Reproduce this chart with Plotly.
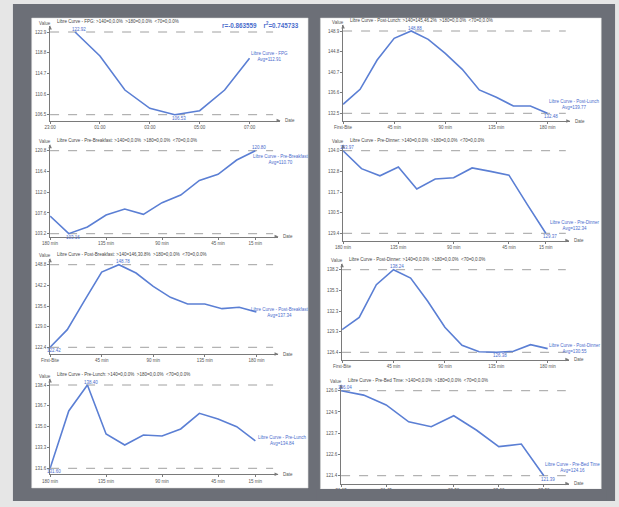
import numpy as np
import plotly.graph_objects as go

W, H = 619, 507

# ------------------------------------------------------------------ data
fpg_hours = [1, 2, 3, 4, 5, 6, 7, 8]                      # hours after 23:00
fpg_values = [122.92, 118.16, 111.42, 107.80, 106.53, 107.32, 111.42, 117.71]
fpg_tickvals = [0, 2, 4, 6, 8]
fpg_ticktext = ["23:00", "01:00", "03:00", "05:00", "07:00"]

pre_meal_minutes = [180, 165, 150, 135, 120, 105, 90, 75, 60, 45, 30, 15]
pre_meal_tickvals = [180, 135, 90, 45, 15]
pre_meal_ticktext = ["180 min", "135 min", "90 min", "45 min", "15 min"]

post_meal_minutes = [0, 15, 30, 45, 60, 75, 90, 105, 120, 135, 150, 165, 180]
post_meal_tickvals = [0, 45, 90, 135, 180]
post_meal_ticktext = ["First-Bite", "45 min", "90 min", "135 min", "180 min"]

pre_bed_minutes = [0, 15, 30, 45, 60, 75, 90, 105, 120, 135]   # minutes after 21:15
pre_bed_tickvals = [0, 30, 75, 105, 135]
pre_bed_ticktext = ["21:15", "21:45", "22:30", "23:00", "23:30"]

pre_breakfast_values = [106.91, 103.16, 104.58, 107.13, 108.40, 107.27, 109.75,
                        111.38, 114.49, 115.77, 118.82, 120.80]
post_breakfast_values = [122.42, 128.05, 137.30, 146.44, 148.78, 146.12, 141.87,
                         138.36, 136.24, 136.24, 134.75, 135.18, 133.69]
pre_lunch_values = [131.60, 136.28, 138.40, 134.40, 133.50, 134.32, 134.24,
                    134.81, 136.09, 135.63, 135.00, 133.83]
post_lunch_values = [134.27, 137.26, 143.10, 147.42, 148.88, 147.22, 144.43,
                     141.24, 137.13, 135.67, 133.94, 133.94, 132.48]
pre_dinner_values = [133.97, 132.97, 132.57, 133.06, 131.84, 132.39, 132.46,
                     133.01, 132.82, 132.61, 130.97, 129.37]
post_dinner_values = [129.63, 131.40, 136.09, 138.24, 137.04, 133.70, 129.97,
                      127.38, 126.45, 126.38, 126.52, 127.48, 126.91]
pre_bed_values = [126.04, 125.80, 125.26, 124.34, 124.07, 124.67, 123.89,
                  122.98, 123.12, 121.39]

fpg_r_text = "r=-0.863559"
fpg_r2_text = "0.745733"

charts = [
    ("FPG", fpg_hours, fpg_values, fpg_tickvals, fpg_ticktext),
    ("Pre-Breakfast", pre_meal_minutes, pre_breakfast_values, pre_meal_tickvals, pre_meal_ticktext),
    ("Post-Breakfast", post_meal_minutes, post_breakfast_values, post_meal_tickvals, post_meal_ticktext),
    ("Pre-Lunch", pre_meal_minutes, pre_lunch_values, pre_meal_tickvals, pre_meal_ticktext),
    ("Post-Lunch", post_meal_minutes, post_lunch_values, post_meal_tickvals, post_meal_ticktext),
    ("Pre-Dinner", pre_meal_minutes, pre_dinner_values, pre_meal_tickvals, pre_meal_ticktext),
    ("Post-Dinner", post_meal_minutes, post_dinner_values, post_meal_tickvals, post_meal_ticktext),
    ("Pre-Bed Time", pre_bed_minutes, pre_bed_values, pre_bed_tickvals, pre_bed_ticktext),
]

# ------------------------------------------------------------------ layout geometry (pixels)
geom = [
    dict(left=41.7, right=275, ytop=32, ybot=114.7, axis=120.5, xpx0=41.7, xv0=0, ppu=25.3, dash_end=268, note=(264, 56.5)),
    dict(left=41.7, right=273, ytop=150.7, ybot=233.7, axis=236.5, xpx0=41.7, xv0=180, ppu=-1.2624, dash_end=268, note=(276, 159.5)),
    dict(left=41.7, right=273, ytop=264.7, ybot=347.3, axis=354, xpx0=41.7, xv0=0, ppu=1.163, dash_end=268, note=(275, 312.7)),
    dict(left=41.7, right=273, ytop=385, ybot=468.3, axis=474.3, xpx0=41.7, xv0=180, ppu=-1.2624, dash_end=268, note=(278, 440.5)),
    dict(left=339, right=569, ytop=31, ybot=113.3, axis=121, xpx0=339, xv0=0, ppu=1.152, dash_end=565, note=(574, 104.3)),
    dict(left=339, right=568, ytop=150.7, ybot=233.3, axis=240.5, xpx0=339, xv0=180, ppu=-1.2467, dash_end=565, note=(574, 225.5)),
    dict(left=338, right=568, ytop=269.7, ybot=352.3, axis=359.5, xpx0=338, xv0=0, ppu=1.159, dash_end=565, note=(574, 348.5)),
    dict(left=337, right=568, ytop=390.7, ybot=475.7, axis=483.5, xpx0=337, xv0=0, ppu=1.524, dash_end=565, note=(572, 467.5)),
]

LIGHT = "#e6e6e6"
DARK = "#6c6f77"
BLUE = "#5b7fd4"
LBLUE = "#4a6ccc"
AX = "#7a7a7a"
TXT = "#555555"
FONT = "Liberation Sans"


def px(x):
    return x / W


def py(y):
    return 1 - y / H


def tri(points):
    p = [f"{px(a):.5f},{py(b):.5f}" for a, b in points]
    return "M " + " L ".join(p) + " Z"


fig = go.Figure()
shapes = [
    dict(type="rect", xref="paper", yref="paper", x0=px(4), x1=px(615), y0=py(501), y1=py(4),
         fillcolor=DARK, line_width=0, layer="below"),
    dict(type="rect", xref="paper", yref="paper", x0=px(23), x1=px(303.5), y0=py(488), y1=py(18),
         fillcolor="white", line=dict(color="#d0d0d0", width=0.5), layer="below"),
    dict(type="rect", xref="paper", yref="paper", x0=px(316), x1=px(601), y0=py(489), y1=py(18),
         fillcolor="white", line=dict(color="#d0d0d0", width=0.5), layer="below"),
]
annotations = []
layout_axes = {}


def stats_text(vals, lo=None, hi=None):
    v = np.array(vals)
    if hi is not None:
        sel = v[v > hi]
    else:
        sel = v[v < lo]
    if len(sel) == 0:
        return "0,0.0%"
    return f"{sel.mean():.0f},{100 * len(sel) / len(v):.1f}%"


for i, ((name, xs, ys, tv, tt), g) in enumerate(zip(charts, geom), start=1):
    xn = "x" if i == 1 else f"x{i}"
    yn = "y" if i == 1 else f"y{i}"
    xk = "xaxis" if i == 1 else f"xaxis{i}"
    yk = "yaxis" if i == 1 else f"yaxis{i}"

    vmin, vmax = min(ys), max(ys)
    s = (vmax - vmin) / (g["ybot"] - g["ytop"])
    tip = g["ytop"] - 6
    yr = [vmin - (g["axis"] - g["ybot"]) * s, vmax + (g["ytop"] - tip) * s]
    xr = [g["xv0"] + (g["left"] - g["xpx0"]) / g["ppu"], g["xv0"] + (g["right"] - g["xpx0"]) / g["ppu"]]

    fig.add_trace(go.Scatter(x=xs, y=ys, mode="lines", line=dict(color=BLUE, width=1.6),
                             xaxis=xn, yaxis=yn, showlegend=False, hoverinfo="skip"))

    yticks = list(np.linspace(vmin, vmax, 5))
    layout_axes[xk] = dict(domain=[px(g["left"]), px(g["right"])], range=xr, anchor=yn,
                           showline=True, linecolor=AX, linewidth=1, ticks="outside", ticklen=2,
                           tickwidth=1, tickcolor=AX, tickvals=tv, ticktext=tt,
                           tickfont=dict(size=4.5, color=TXT, family=FONT),
                           showgrid=False, zeroline=False, fixedrange=True)
    layout_axes[yk] = dict(domain=[py(g["axis"]), py(tip)], range=yr, anchor=xn,
                           showline=True, linecolor=AX, linewidth=1, ticks="outside", ticklen=2,
                           tickwidth=1, tickcolor=AX, tickvals=yticks,
                           ticktext=[f"{t:.1f}" for t in yticks],
                           tickfont=dict(size=4.5, color=TXT, family=FONT),
                           showgrid=False, zeroline=False, fixedrange=True)

    # dashed max / min lines
    dfrac = (g["dash_end"] - g["left"]) / (g["right"] - g["left"])
    for v in (vmax, vmin):
        shapes.append(dict(type="line", xref=f"{xn} domain", yref=yn, x0=0, x1=dfrac, y0=v, y1=v,
                           line=dict(color="#a0a0a0", width=1, dash="dash"), layer="below"))

    # axis arrowheads
    r, a, l = g["right"], g["axis"], g["left"]
    shapes.append(dict(type="path", xref="paper", yref="paper",
                       path=tri([(r - 3.5, a - 1.8), (r + 0.5, a), (r - 3.5, a + 1.8)]),
                       fillcolor=AX, line_width=0, layer="above"))
    shapes.append(dict(type="path", xref="paper", yref="paper",
                       path=tri([(l - 1.8, tip + 3.5), (l, tip - 0.5), (l + 1.8, tip + 3.5)]),
                       fillcolor=AX, line_width=0, layer="above"))

    annotations.append(dict(xref="paper", yref="paper", x=px(r + 3), y=py(a), text="Date",
                            showarrow=False, xanchor="left", yanchor="middle",
                            font=dict(size=4.5, color=TXT, family=FONT)))
    annotations.append(dict(xref="paper", yref="paper", x=px(l - 5), y=py(tip - 3), text="Value",
                            showarrow=False, xanchor="center", yanchor="middle",
                            font=dict(size=4.5, color=TXT, family=FONT)))
    title = (f"Libre Curve - {name}: &gt;140={stats_text(ys, hi=140)}&nbsp;&nbsp;"
             f"&gt;180={stats_text(ys, hi=180)}&nbsp;&nbsp;&lt;70={stats_text(ys, lo=70)}")
    annotations.append(dict(xref="paper", yref="paper", x=px(l + 5), y=py(tip - 4.5), text=title,
                            showarrow=False, xanchor="left", yanchor="middle",
                            font=dict(size=4.5, color="#444", family=FONT)))

    # max / min value labels
    imax, imin = int(np.argmax(ys)), int(np.argmin(ys))
    annotations.append(dict(xref=xn, yref=yn, x=xs[imax], y=vmax, text=f"{vmax:.2f}", showarrow=False,
                            xanchor="center", yanchor="middle", xshift=4, yshift=3,
                            font=dict(size=4.5, color=LBLUE, family=FONT)))
    annotations.append(dict(xref=xn, yref=yn, x=xs[imin], y=vmin, text=f"{vmin:.2f}", showarrow=False,
                            xanchor="center", yanchor="middle", xshift=4, yshift=-3.5,
                            font=dict(size=4.5, color=LBLUE, family=FONT)))

    # series note
    avg = float(np.mean(ys))
    annotations.append(dict(xref="paper", yref="paper", x=px(g["note"][0]), y=py(g["note"][1]),
                            text=f"Libre Curve - {name}<br>Avg={avg:.2f}", showarrow=False,
                            xanchor="center", yanchor="middle", align="center",
                            font=dict(size=4.5, color=LBLUE, family=FONT)))

# correlation text on FPG chart
annotations.append(dict(xref="paper", yref="paper", x=px(255), y=py(25),
                        text=f"<b>{fpg_r_text}&nbsp;&nbsp;&nbsp;&nbsp;r<sup>2</sup>={fpg_r2_text}</b>",
                        showarrow=False, xanchor="center", yanchor="middle",
                        font=dict(size=6.3, color=LBLUE, family=FONT)))

# page bottom clipping of the last chart's tick labels
shapes.append(dict(type="rect", xref="paper", yref="paper", x0=px(312), x1=px(606), y0=py(501), y1=py(489),
                   fillcolor=DARK, line_width=0, layer="above"))

fig.update_layout(width=W, height=H, margin=dict(l=0, r=0, t=0, b=0),
                  paper_bgcolor=LIGHT, plot_bgcolor="rgba(0,0,0,0)",
                  shapes=shapes, annotations=annotations, showlegend=False,
                  font=dict(family=FONT), **layout_axes)

fig.write_html("out.html")
